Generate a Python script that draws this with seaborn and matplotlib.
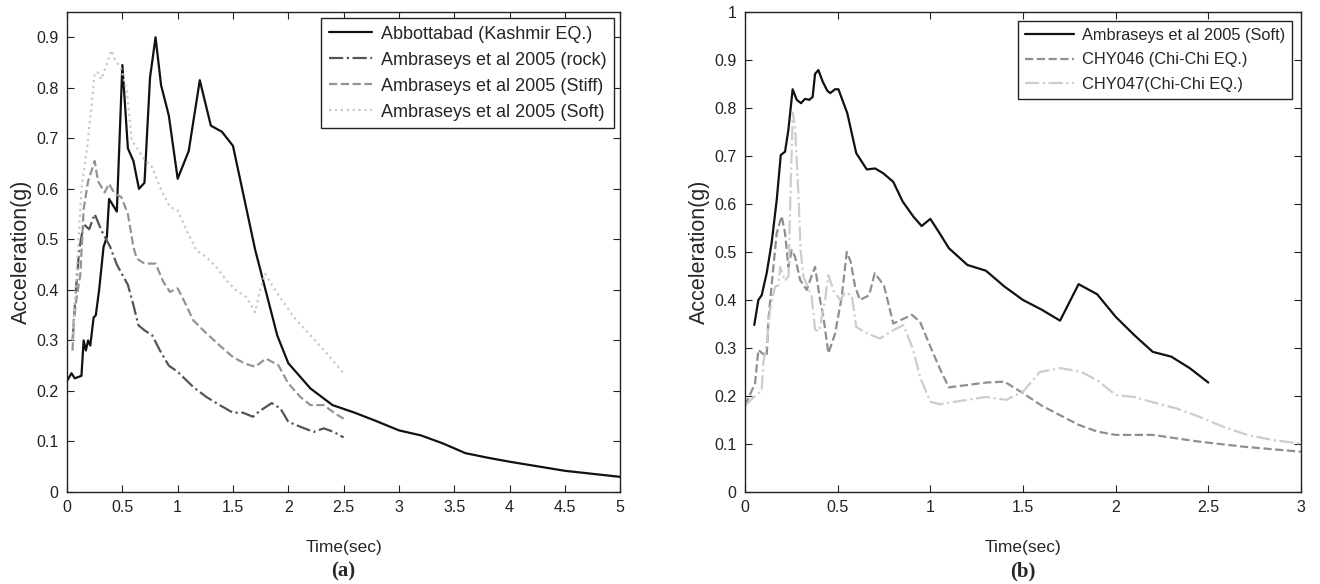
import matplotlib
matplotlib.use("Agg")
import matplotlib.pyplot as plt
import seaborn as sns

# (a) Kashmir EQ. comparison
ABB_T = [0, 0.04, 0.07, 0.13, 0.15, 0.17, 0.19, 0.21, 0.24, 0.26, 0.29, 0.33, 0.36, 0.38, 0.45,
         0.5, 0.55, 0.6, 0.65, 0.7, 0.75, 0.8, 0.85, 0.92, 1.0, 1.1, 1.2, 1.3, 1.4, 1.5, 1.7,
         1.9, 2.0, 2.2, 2.4, 2.6, 2.8, 3.0, 3.2, 3.4, 3.6, 3.8, 4.0, 4.5, 5.0]
ABB_A = [0.22, 0.235, 0.225, 0.23, 0.30, 0.28, 0.30, 0.29, 0.345, 0.35, 0.40, 0.485, 0.505, 0.58, 0.555,
         0.845, 0.68, 0.655, 0.60, 0.612, 0.82, 0.90, 0.805, 0.745, 0.62, 0.675, 0.815, 0.725, 0.713, 0.685, 0.48,
         0.31, 0.255, 0.205, 0.172, 0.157, 0.14, 0.122, 0.112, 0.096, 0.077, 0.068, 0.06, 0.042, 0.03]

ROCK_T = [0.05, 0.08, 0.11, 0.15, 0.2, 0.25, 0.31, 0.39, 0.45, 0.5, 0.55, 0.6, 0.645, 0.7, 0.77,
          0.84, 0.92, 1.0, 1.14, 1.26, 1.38, 1.5, 1.59, 1.68, 1.74, 1.85, 1.93, 2.0, 2.11, 2.23,
          2.32, 2.41, 2.5]
ROCK_A = [0.30, 0.40, 0.48, 0.53, 0.52, 0.55, 0.518, 0.485, 0.45, 0.43, 0.41, 0.37, 0.33, 0.32, 0.31,
          0.28, 0.25, 0.238, 0.208, 0.188, 0.172, 0.157, 0.157, 0.149, 0.16, 0.176, 0.165, 0.139, 0.129, 0.119,
          0.126, 0.119, 0.108]

STIFF_T = [0.05, 0.06, 0.09, 0.12, 0.15, 0.19, 0.25, 0.28, 0.34, 0.38, 0.43, 0.49, 0.55, 0.6, 0.63,
           0.7, 0.8, 0.87, 0.93, 1.0, 1.07, 1.14, 1.26, 1.38, 1.5, 1.61, 1.7, 1.8, 1.91, 2.0,
           2.11, 2.2, 2.32, 2.42, 2.5]
STIFF_A = [0.28, 0.34, 0.39, 0.43, 0.56, 0.615, 0.655, 0.615, 0.593, 0.61, 0.59, 0.584, 0.55, 0.485, 0.462,
           0.452, 0.452, 0.416, 0.396, 0.403, 0.373, 0.34, 0.314, 0.29, 0.267, 0.254, 0.248, 0.264, 0.251, 0.215,
           0.188, 0.172, 0.172, 0.156, 0.145]

SOFT_T = [0.05, 0.09, 0.13, 0.18, 0.22, 0.25, 0.28, 0.31, 0.36, 0.40, 0.435, 0.49, 0.54, 0.585, 0.645,
          0.705, 0.77, 0.84, 0.93, 1.0, 1.08, 1.17, 1.26, 1.35, 1.44, 1.53, 1.62, 1.7, 1.745, 1.79,
          1.9, 2.05, 2.2, 2.35, 2.5]
SOFT_A = [0.30, 0.45, 0.60, 0.68, 0.76, 0.83, 0.83, 0.817, 0.847, 0.874, 0.855, 0.837, 0.795, 0.696, 0.676,
          0.656, 0.643, 0.603, 0.564, 0.557, 0.518, 0.478, 0.465, 0.445, 0.419, 0.399, 0.386, 0.356, 0.399, 0.432,
          0.393, 0.346, 0.31, 0.274, 0.235]

# (b) Chi-Chi EQ. comparison
AMB_T = [0.05, 0.072, 0.09, 0.117, 0.144, 0.171, 0.193, 0.216, 0.234, 0.257, 0.279, 0.302, 0.324, 0.347,
         0.365, 0.378, 0.396, 0.419, 0.444, 0.46, 0.486, 0.504, 0.552, 0.6, 0.657, 0.702, 0.746, 0.8,
         0.851, 0.908, 0.953, 1.0, 1.05, 1.1, 1.2, 1.3, 1.4, 1.5, 1.6, 1.7, 1.8, 1.9, 2.0, 2.1,
         2.2, 2.3, 2.4, 2.5]
AMB_A = [0.348, 0.40, 0.41, 0.456, 0.52, 0.608, 0.702, 0.709, 0.754, 0.839, 0.817, 0.81, 0.819, 0.817,
         0.823, 0.871, 0.879, 0.855, 0.836, 0.831, 0.839, 0.839, 0.789, 0.706, 0.672, 0.674, 0.664, 0.646,
         0.605, 0.574, 0.554, 0.569, 0.539, 0.508, 0.473, 0.461, 0.428, 0.40, 0.38, 0.357, 0.433, 0.412, 0.365, 0.327,
         0.292, 0.282, 0.258, 0.228]

CHY046_T = [0, 0.054, 0.072, 0.09, 0.117, 0.126, 0.153, 0.171, 0.198, 0.216, 0.234, 0.252, 0.27, 0.297,
            0.333, 0.35, 0.378, 0.405, 0.423, 0.45, 0.486, 0.522, 0.549, 0.57, 0.594, 0.62, 0.67, 0.70,
            0.75, 0.8, 0.85, 0.9, 0.944, 1.0, 1.05, 1.1, 1.2, 1.3, 1.4, 1.5, 1.6, 1.7, 1.8, 1.9,
            2.0, 2.2, 2.45, 2.7, 3.0]
CHY046_A = [0.18, 0.226, 0.296, 0.29, 0.282, 0.358, 0.469, 0.539, 0.575, 0.539, 0.469, 0.504, 0.49, 0.442,
            0.421, 0.44, 0.469, 0.40, 0.365, 0.289, 0.33, 0.407, 0.50, 0.48, 0.428, 0.40, 0.41, 0.456,
            0.43, 0.351, 0.36, 0.369, 0.355, 0.303, 0.258, 0.218, 0.223, 0.228, 0.23, 0.206, 0.18, 0.16, 0.14, 0.126,
            0.119, 0.119, 0.105, 0.094, 0.084]

CHY047_T = [0, 0.027, 0.09, 0.099, 0.117, 0.135, 0.162, 0.18, 0.19, 0.215, 0.235, 0.245, 0.258, 0.27,
            0.288, 0.30, 0.315, 0.36, 0.378, 0.40, 0.432, 0.45, 0.477, 0.513, 0.54, 0.576, 0.6, 0.66,
            0.728, 0.8, 0.855, 0.908, 0.944, 1.0, 1.05, 1.2, 1.3, 1.41, 1.5, 1.59, 1.7, 1.81, 1.9,
            2.0, 2.1, 2.22, 2.33, 2.45, 2.58, 2.71, 2.85, 3.0]
CHY047_A = [0.18, 0.19, 0.212, 0.27, 0.31, 0.379, 0.428, 0.43, 0.469, 0.44, 0.45, 0.62, 0.79, 0.76,
            0.62, 0.504, 0.449, 0.407, 0.338, 0.335, 0.40, 0.452, 0.42, 0.40, 0.415, 0.41, 0.344, 0.33,
            0.32, 0.337, 0.348, 0.296, 0.24, 0.188, 0.183, 0.192, 0.198, 0.192, 0.209, 0.25, 0.258, 0.251, 0.233,
            0.202, 0.198, 0.185, 0.174, 0.157, 0.136, 0.119, 0.108, 0.101]

LEFT_LABELS = ["Abbottabad (Kashmir EQ.)", "Ambraseys et al 2005 (rock)",
               "Ambraseys et al 2005 (Stiff)", "Ambraseys et al 2005 (Soft)"]
RIGHT_LABELS = ["Ambraseys et al 2005 (Soft)", "CHY046 (Chi-Chi EQ.)", "CHY047(Chi-Chi EQ.)"]

sns.set_style("ticks")
plt.rcParams["font.family"] = ["Liberation Sans", "DejaVu Sans"]
plt.rcParams["xtick.direction"] = "in"
plt.rcParams["ytick.direction"] = "in"
plt.rcParams["xtick.top"] = True
plt.rcParams["ytick.right"] = True

TICK_FS = 11.5

fig = plt.figure(figsize=(13.2, 5.84), dpi=100)
ax1 = fig.add_axes([0.0508, 0.1575, 0.419, 0.822])
ax2 = fig.add_axes([0.5644, 0.1575, 0.4212, 0.822])


def draw(ax, t, a, label, color, ls, lw):
    sns.lineplot(x=t, y=a, ax=ax, color=color, linestyle=ls, linewidth=lw,
                 label=label, sort=False, estimator=None)


draw(ax1, ABB_T, ABB_A, LEFT_LABELS[0], "#111111", "-", 1.6)
draw(ax1, ROCK_T, ROCK_A, LEFT_LABELS[1], "#555555", "-.", 1.6)
draw(ax1, STIFF_T, STIFF_A, LEFT_LABELS[2], "#939393", "--", 1.6)
draw(ax1, SOFT_T, SOFT_A, LEFT_LABELS[3], "#c8c8c8", ":", 1.6)

draw(ax2, AMB_T, AMB_A, RIGHT_LABELS[0], "#111111", "-", 1.6)
draw(ax2, CHY046_T, CHY046_A, RIGHT_LABELS[1], "#8f8f8f", "--", 1.6)
draw(ax2, CHY047_T, CHY047_A, RIGHT_LABELS[2], "#cdcdcd", "-.", 1.6)

ax1.set_xlim(0, 5)
ax1.set_ylim(0, 0.95)
ax1.set_xticks([0, 0.5, 1, 1.5, 2, 2.5, 3, 3.5, 4, 4.5, 5])
ax1.set_xticklabels(["0", "0.5", "1", "1.5", "2", "2.5", "3", "3.5", "4", "4.5", "5"])
ax1.set_yticks([0, 0.1, 0.2, 0.3, 0.4, 0.5, 0.6, 0.7, 0.8, 0.9])
ax1.set_yticklabels(["0", "0.1", "0.2", "0.3", "0.4", "0.5", "0.6", "0.7", "0.8", "0.9"])

ax2.set_xlim(0, 3)
ax2.set_ylim(0, 1)
ax2.set_xticks([0, 0.5, 1, 1.5, 2, 2.5, 3])
ax2.set_xticklabels(["0", "0.5", "1", "1.5", "2", "2.5", "3"])
ax2.set_yticks([0, 0.1, 0.2, 0.3, 0.4, 0.5, 0.6, 0.7, 0.8, 0.9, 1])
ax2.set_yticklabels(["0", "0.1", "0.2", "0.3", "0.4", "0.5", "0.6", "0.7", "0.8", "0.9", "1"])

for ax in (ax1, ax2):
    for sp in ax.spines.values():
        sp.set_visible(True)
        sp.set_color("#222222")
        sp.set_linewidth(1.0)
    ax.tick_params(labelsize=TICK_FS, length=5, width=0.8, colors="#222222", pad=6)
    ax.set_xlabel("Time(sec)", fontsize=12.5, labelpad=18)
    ax.set_ylabel("Acceleration(g)", fontsize=15.5, labelpad=3)

leg1 = ax1.legend(loc="upper right", fontsize=13, frameon=True, fancybox=False,
                  edgecolor="#222222", framealpha=1, handlelength=2.4,
                  borderaxespad=0.35, labelspacing=0.5, handletextpad=0.5)
leg1.get_frame().set_linewidth(1.0)
leg2 = ax2.legend(loc="upper right", fontsize=11.8, frameon=True, fancybox=False,
                  edgecolor="#222222", framealpha=1, handlelength=3.0,
                  borderaxespad=0.55, labelspacing=0.6, handletextpad=0.5)
leg2.get_frame().set_linewidth(1.0)

fig.text(0.2602, 0.004, "(a)", ha="center", va="bottom", fontsize=15, fontweight="bold",
         family=["Liberation Serif", "DejaVu Serif"])
fig.text(0.775, 0.004, "(b)", ha="center", va="bottom", fontsize=15, fontweight="bold",
         family=["Liberation Serif", "DejaVu Serif"])

fig.savefig("out.png", dpi=100)
